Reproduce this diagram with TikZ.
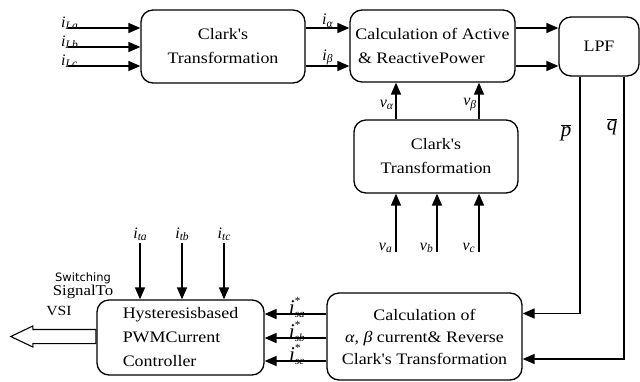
\documentclass[tikz,border=0pt]{standalone}
\usepackage{fontspec}
\setmainfont{Liberation Serif}
\newfontfamily\boxfont[FakeStretch=1.12]{Liberation Serif}
\newfontfamily\swfont{DejaVu Sans}
\usetikzlibrary{positioning, shapes.arrows, arrows.meta}
\newcommand{\ilab}[2]{\textit{#1}{\fontsize{11.5}{11.5}\selectfont\raisebox{-2.5pt}{\textit{#2}}}}
\newcommand{\slab}[1]{\textit{i}\rlap{\raisebox{10pt}{\fontsize{11}{11}\selectfont*}}{\fontsize{11}{11}\selectfont\raisebox{-3pt}{\textit{#1}}}}
\tikzstyle{block}=[rectangle, rounded corners=12pt, draw=black, line width=1.3pt, align=center, inner sep=2pt, font=\boxfont\fontsize{16}{24}\selectfont]
\tikzstyle{sig}=[-{Triangle[length=12pt,width=10pt]}, line width=1.6pt]
\tikzstyle{lbl}=[inner sep=1pt, font=\fontsize{16}{18}\selectfont]
\tikzstyle{big}=[inner sep=0pt, font=\fontsize{21}{21}\selectfont]

\begin{document}
\begin{tikzpicture}[x=1pt, y=-1pt]
            \useasboundingbox (0,0) rectangle (640,381);
            %power calculation path on top, current control at the bottom
            \node[block, minimum width=164pt, minimum height=73pt](clark1) at (223,46.5){Clark's\\Transformation};
            \node[block, align=left, minimum width=165pt, minimum height=72pt](calc) at (432.5,46){Calculation of Active\\\,\& ReactivePower};
            \node[block, minimum width=80pt, minimum height=59pt](lpf) at (599,46.5){LPF};
            \node[block, minimum width=164pt, minimum height=73pt](clark2) at (436,156.5){Clark's\\Transformation};
            \node[block, font=\boxfont\fontsize{16}{22}\selectfont, minimum width=195pt, minimum height=87pt](rev) at (424.5,336.5){Calculation of\\\textit{α}, \textit{β} current\& Reverse\\Clark's Transformation};
            \node[block, align=left, minimum width=167pt, minimum height=75pt](hyst) at (180.5,337.5){Hysteresisbased\\PWMCurrent\\Controller};
            \foreach \n/\y in {La/28,Lb/47,Lc/66}{
                \coordinate (i\n) at (68,\y);
                \draw[sig] (i\n) -- (i\n -| clark1.west);
                \node[lbl, above right=-3pt and -8pt of i\n]{\ilab{i}{\n}};
            }
            \draw[sig] (clark1.east |- iLa) -- (calc.west |- iLa) node[lbl, midway, above=-1pt]{\ilab{i}{α}};
            \draw[sig] (clark1.east |- iLc) -- (calc.west |- iLc) node[lbl, midway, above=-1pt]{\ilab{i}{β}};
            \draw[sig] (calc.east |- iLa) -- (lpf.west |- iLa);
            \draw[sig] (calc.east |- iLc) -- (lpf.west |- iLc);
            \foreach \n/\x in {a/396,b/437,c/479}{
                \coordinate (v\n) at (\x,252);
                \draw[sig] (v\n) -- (v\n |- clark2.south);
                \node[lbl, above left=-2pt and 3pt of v\n]{\ilab{v}{\n}};
            }
            \draw[sig] (va |- clark2.north) -- (va |- calc.south) node[lbl, pos=0.4, left=1pt]{\ilab{v}{α}};
            \draw[sig] (vc |- clark2.north) -- (vc |- calc.south) node[lbl, pos=0.4, left=1pt]{\ilab{v}{β}};
            \draw[sig] ([xshift=-19pt]lpf.south) |- ([yshift=23pt]rev.east);
            \draw[sig] ([xshift=25pt]lpf.south) |- ([yshift=-22.5pt]rev.east);
            \node[big](pbar) at (566,133){$\overline{\hbox{\textit{p}}}$};
            \node[big](qbar) at (612,127){$\overline{\hbox{\textit{q}}}$};
            \foreach \d/\s in {22.5/sa,-1.5/sb,-24.5/sc}{
                \draw[sig] ([yshift=\d pt]rev.west) -- ([yshift=\d pt]rev.west -| hyst.east) node[big, pos=0.48, above=-4pt]{\slab{\s}};
            }
            \foreach \n/\x in {ta/140,tb/182,tc/224}{
                \coordinate (i\n) at (\x,243);
                \draw[sig] (i\n) -- (i\n |- hyst.north);
                \node[lbl, above=1pt of i\n]{\ilab{i}{\n}};
            }
            \node[single arrow, draw, line width=1.1pt, shape border rotate=180, single arrow tip angle=51, single arrow head extend=3.5pt, inner sep=6.5pt, minimum height=85pt, anchor=tail](vsi) at ([yshift=1pt]hyst.west){};
            \node[inner sep=0pt, font=\swfont\fontsize{11.5}{12}\selectfont](sw) at (83,278){Switching};
            \node[inner sep=0pt, font=\boxfont\fontsize{15}{16}\selectfont, below=1pt of sw](sto){SignalTo};
            \node[inner sep=0pt, font=\boxfont\fontsize{14}{16}\selectfont](vsil) at (59,311){VSI};
        \end{tikzpicture}
\end{document}
